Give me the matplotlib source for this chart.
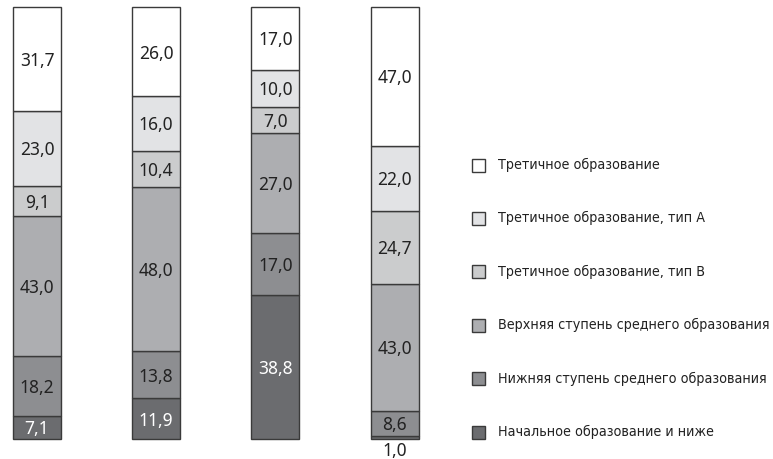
import numpy as np
import matplotlib
matplotlib.use('Agg')
import matplotlib.pyplot as plt
from matplotlib.patches import Rectangle
from matplotlib import font_manager

# Данные (снизу вверх)
levels = ["Начальное образование и ниже",
          "Нижняя ступень среднего образования",
          "Верхняя ступень среднего образования",
          "Третичное образование, тип B",
          "Третичное образование, тип A",
          "Третичное образование"]
bar1 = [7.1, 18.2, 43.0, 9.1, 23.0, 31.7]
bar2 = [11.9, 13.8, 48.0, 10.4, 16.0, 26.0]
bar3 = [38.8, 17.0, 27.0, 7.0, 10.0, 17.0]
bar4 = [1.0, 8.6, 43.0, 24.7, 22.0, 47.0]
bars = [bar1, bar2, bar3, bar4]

colors = ["#6b6c6f", "#8d8e91", "#adaeb1", "#cbcccd", "#e2e3e5", "#ffffff"]
text_colors = ["white", "#222222", "#222222", "#222222", "#222222", "#222222"]

# узкий шрифт для легенды, если есть
names = {f.name for f in font_manager.fontManager.ttflist}
if "Liberation Sans Narrow" in names:
    leg_font = dict(family="Liberation Sans Narrow", fontsize=12)
else:
    leg_font = dict(family="DejaVu Sans", fontstretch="condensed", fontsize=10.3)

W, H = 773, 459
fig = plt.figure(figsize=(W / 100, H / 100), dpi=100)
ax = fig.add_axes([0, 0, 1, 1])

x = np.arange(len(bars))
w = 0.403
for i, vals in enumerate(bars):
    vals = np.array(vals)
    share = vals / vals.sum() * 100
    bottom = 0
    for j, (v, s) in enumerate(zip(vals, share)):
        ax.bar(x[i], s, w, bottom=bottom, color=colors[j], edgecolor="#3a3a3a", linewidth=1)
        lbl = f"{v:.1f}".replace(".", ",")
        if s < 3:
            ax.text(x[i], -2.4, lbl, ha="center", va="center_baseline", fontsize=12.5,
                    family="Noto Sans", color="#222222")
        else:
            ax.text(x[i], bottom + s / 2, lbl, ha="center", va="center_baseline", fontsize=12.5,
                    family="Noto Sans", color=text_colors[j])
        bottom += s

ax.set_xlim(-0.3105, 6.176)
ax.set_ylim(-4.63, 101.62)
ax.axis("off")

# легенда вручную (сверху вниз)
for k, (lab, c) in enumerate(zip(levels[::-1], colors[::-1])):
    yc = 165 + 53.4 * k
    fig.add_artist(Rectangle((472 / W, 1 - (yc + 6.5) / H), 13 / W, 13 / H,
                             transform=fig.transFigure, facecolor=c,
                             edgecolor="#3a3a3a", linewidth=1))
    fig.text(498 / W, 1 - yc / H, lab, ha="left", va="center", color="#222222", **leg_font)

plt.savefig("out.png", dpi=100)
